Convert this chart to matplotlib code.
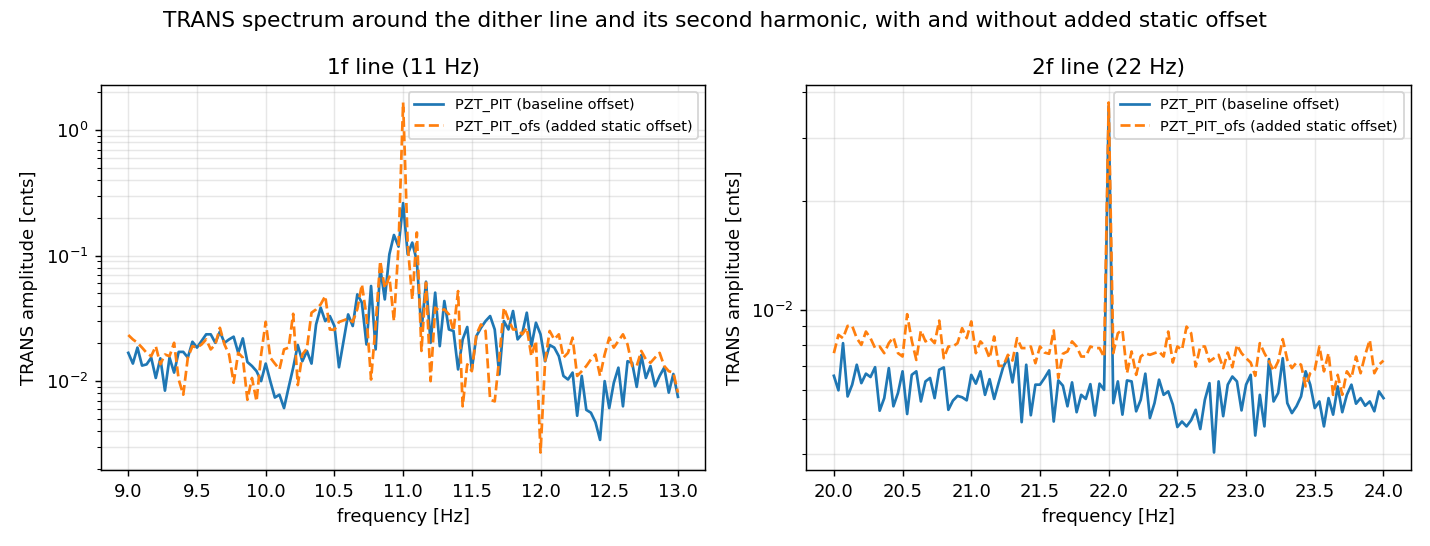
import numpy as np
import matplotlib
matplotlib.use("Agg")
import matplotlib.pyplot as plt

# frequency grids (1/30 Hz resolution)
freq_1f = np.linspace(9.0, 13.0, 121)
freq_2f = np.linspace(20.0, 24.0, 121)

# 1f line, baseline offset
pit_1f = [
    0.0168, 0.0138, 0.0185, 0.0133, 0.0136, 0.0154, 0.0106, 0.0152, 0.0084, 0.0154,
    0.0117, 0.0171, 0.0171, 0.0154, 0.0206, 0.0185, 0.0209, 0.0236, 0.0236, 0.0202,
    0.0248, 0.0202, 0.0215, 0.0226, 0.0168, 0.0219, 0.0142, 0.0132, 0.0120, 0.0100,
    0.0138, 0.0100, 0.0074, 0.0078, 0.0061, 0.0089, 0.0128, 0.0194, 0.0144, 0.0174,
    0.0138, 0.0283, 0.0385, 0.0301, 0.0330, 0.0275, 0.0129, 0.0209, 0.0340, 0.0275,
    0.0491, 0.0422, 0.0196, 0.0573, 0.0179, 0.0802, 0.0448, 0.1025, 0.146, 0.118,
    0.262,
    0.1025, 0.127, 0.0906, 0.0251, 0.062, 0.0202, 0.0507, 0.0190, 0.0435, 0.0258,
    0.0251, 0.0124, 0.0215, 0.0270, 0.0124, 0.0229, 0.0266, 0.0301, 0.0330, 0.0258,
    0.0113, 0.0301, 0.0258, 0.0362, 0.0215, 0.0239, 0.0351, 0.0190, 0.0292, 0.0236,
    0.0144, 0.0194, 0.0185, 0.0158, 0.0110, 0.0103, 0.0117, 0.0053, 0.0110, 0.0059,
    0.0056, 0.0047, 0.0034, 0.0100, 0.0061, 0.0097, 0.0128, 0.0063, 0.0144, 0.0140,
    0.0090, 0.0161, 0.0106, 0.0132, 0.0091, 0.0110, 0.0128, 0.0081, 0.0114, 0.0075,
]

# 1f line, added static offset
ofs_1f = [
    0.0233, 0.0215, 0.0202, 0.0185, 0.0168, 0.0158, 0.0190, 0.0136, 0.0163, 0.0158,
    0.0202, 0.0103, 0.0078, 0.0154, 0.0190, 0.0185, 0.0196, 0.0215, 0.0179, 0.0196,
    0.0266, 0.0196, 0.0163, 0.0097, 0.0168, 0.0154, 0.0071, 0.0106, 0.0069, 0.0163,
    0.0297, 0.0154, 0.0138, 0.0124, 0.0179, 0.0185, 0.0344, 0.0093, 0.0163, 0.0182,
    0.0351, 0.0373, 0.0409, 0.0477, 0.0258, 0.0256, 0.0296, 0.0305, 0.0315, 0.0296,
    0.0375, 0.0590, 0.0330, 0.0103, 0.0280, 0.0906, 0.0550, 0.0680, 0.0301, 0.12,
    1.66,
    0.123, 0.0448, 0.153, 0.0174, 0.0609, 0.0100, 0.0385, 0.0362, 0.0373, 0.0340,
    0.0251, 0.0522, 0.0063, 0.0136, 0.0120, 0.0236, 0.0283, 0.0251, 0.0071, 0.0069,
    0.0154, 0.0385, 0.0310, 0.0258, 0.0258, 0.0236, 0.0266, 0.0158, 0.0209, 0.0027,
    0.0144, 0.0251, 0.0215, 0.0236, 0.0154, 0.0168, 0.0222, 0.0110, 0.0120, 0.0132,
    0.0149, 0.0163, 0.0110, 0.0163, 0.0222, 0.0185, 0.0209, 0.0236, 0.0196, 0.0132,
    0.0132, 0.0174, 0.0149, 0.0140, 0.0154, 0.0168, 0.0132, 0.0120, 0.0117, 0.0081,
]

# 2f line, baseline offset
pit_2f = [
    0.00657, 0.00599, 0.00809, 0.00576, 0.00621, 0.00705, 0.00627, 0.00666, 0.00652, 0.00694,
    0.00526, 0.00570, 0.00690, 0.00541, 0.00589, 0.00676, 0.00515, 0.00661, 0.00676, 0.00558,
    0.00634, 0.00648, 0.00570, 0.00683, 0.00693, 0.00529, 0.00561, 0.00578, 0.00573, 0.00562,
    0.00661, 0.00625, 0.00676, 0.00582, 0.00643, 0.00567, 0.00630, 0.00697, 0.00735, 0.00630,
    0.00759, 0.00489, 0.00705, 0.00511, 0.00621, 0.00621, 0.00648, 0.00680, 0.00491, 0.00638,
    0.00617, 0.00541, 0.00630, 0.00521, 0.00582, 0.00567, 0.00623, 0.00510, 0.00625, 0.00601,
    0.0366,
    0.00552, 0.00634, 0.00513, 0.00638, 0.00634, 0.00524, 0.00564, 0.00666, 0.00502, 0.00552,
    0.00641, 0.00582, 0.00595, 0.00547, 0.00474, 0.00491, 0.00476, 0.00495, 0.00529, 0.00468,
    0.00564, 0.00627, 0.00403, 0.00634, 0.00508, 0.00621, 0.00654, 0.00634, 0.00527, 0.00621,
    0.00661, 0.00449, 0.00582, 0.00476, 0.00731, 0.00558, 0.00589, 0.00735, 0.00552, 0.00518,
    0.00541, 0.00576, 0.00676, 0.00621, 0.00535, 0.00558, 0.00476, 0.00570, 0.00513, 0.00614,
    0.00521, 0.00582, 0.00621, 0.00550, 0.00570, 0.00543, 0.00558, 0.00524, 0.00595, 0.00570,
]

# 2f line, added static offset
ofs_2f = [
    0.00759, 0.00853, 0.00835, 0.00903, 0.00903, 0.00835, 0.00800, 0.00871, 0.00835, 0.00784,
    0.00792, 0.00759, 0.00809, 0.00840, 0.00759, 0.00743, 0.00973, 0.00823, 0.00727, 0.00877,
    0.00818, 0.00835, 0.00809, 0.00934, 0.00735, 0.00792, 0.00792, 0.00809, 0.00890, 0.00835,
    0.00929, 0.00759, 0.00818, 0.00792, 0.00735, 0.00844, 0.00700, 0.00700, 0.00751, 0.00724,
    0.00835, 0.00784, 0.00784, 0.00792, 0.00712, 0.00792, 0.00762, 0.00756, 0.00877, 0.00648,
    0.00756, 0.00767, 0.00818, 0.00792, 0.00743, 0.00743, 0.00792, 0.00784, 0.00784, 0.00740,
    0.0375,
    0.00759, 0.00862, 0.00881, 0.00668, 0.00767, 0.00661, 0.00743, 0.00759, 0.00751, 0.00759,
    0.00767, 0.00743, 0.00871, 0.00715, 0.00792, 0.00775, 0.00899, 0.00862, 0.00697, 0.00792,
    0.00792, 0.00720, 0.00735, 0.00751, 0.00690, 0.00762, 0.00694, 0.00800, 0.00759, 0.00735,
    0.00715, 0.00657, 0.00809, 0.00759, 0.00720, 0.00678, 0.00720, 0.00830, 0.00727, 0.00690,
    0.00715, 0.00705, 0.00614, 0.00668, 0.00683, 0.00792, 0.00676, 0.00759, 0.00582, 0.00661,
    0.00582, 0.00676, 0.00648, 0.00743, 0.00668, 0.00751, 0.00826, 0.00668, 0.00705, 0.00724,
]

panels = [
    (freq_1f, pit_1f, ofs_1f, "1f line (11 Hz)"),
    (freq_2f, pit_2f, ofs_2f, "2f line (22 Hz)"),
]

fig, axes = plt.subplots(1, 2, figsize=(11, 4.2), dpi=130)
fig.subplots_adjust(left=0.0705, right=0.9867, top=0.8443, bottom=0.1392, wspace=0.167)

for ax, (f, a, b, title) in zip(axes, panels):
    ax.semilogy(f, a, color="tab:blue", lw=1.5, label="PZT_PIT (baseline offset)")
    ax.semilogy(f, b, color="tab:orange", lw=1.5, ls="--", label="PZT_PIT_ofs (added static offset)")
    ax.set_title(title)
    ax.set_xlabel("frequency [Hz]")
    ax.set_ylabel("TRANS amplitude [cnts]")
    ax.grid(True, which="both", alpha=0.3)
    ax.legend(loc="upper right", fontsize=8)

fig.suptitle("TRANS spectrum around the dither line and its second harmonic, with and without added static offset")
fig.savefig("out.png", dpi=130)
